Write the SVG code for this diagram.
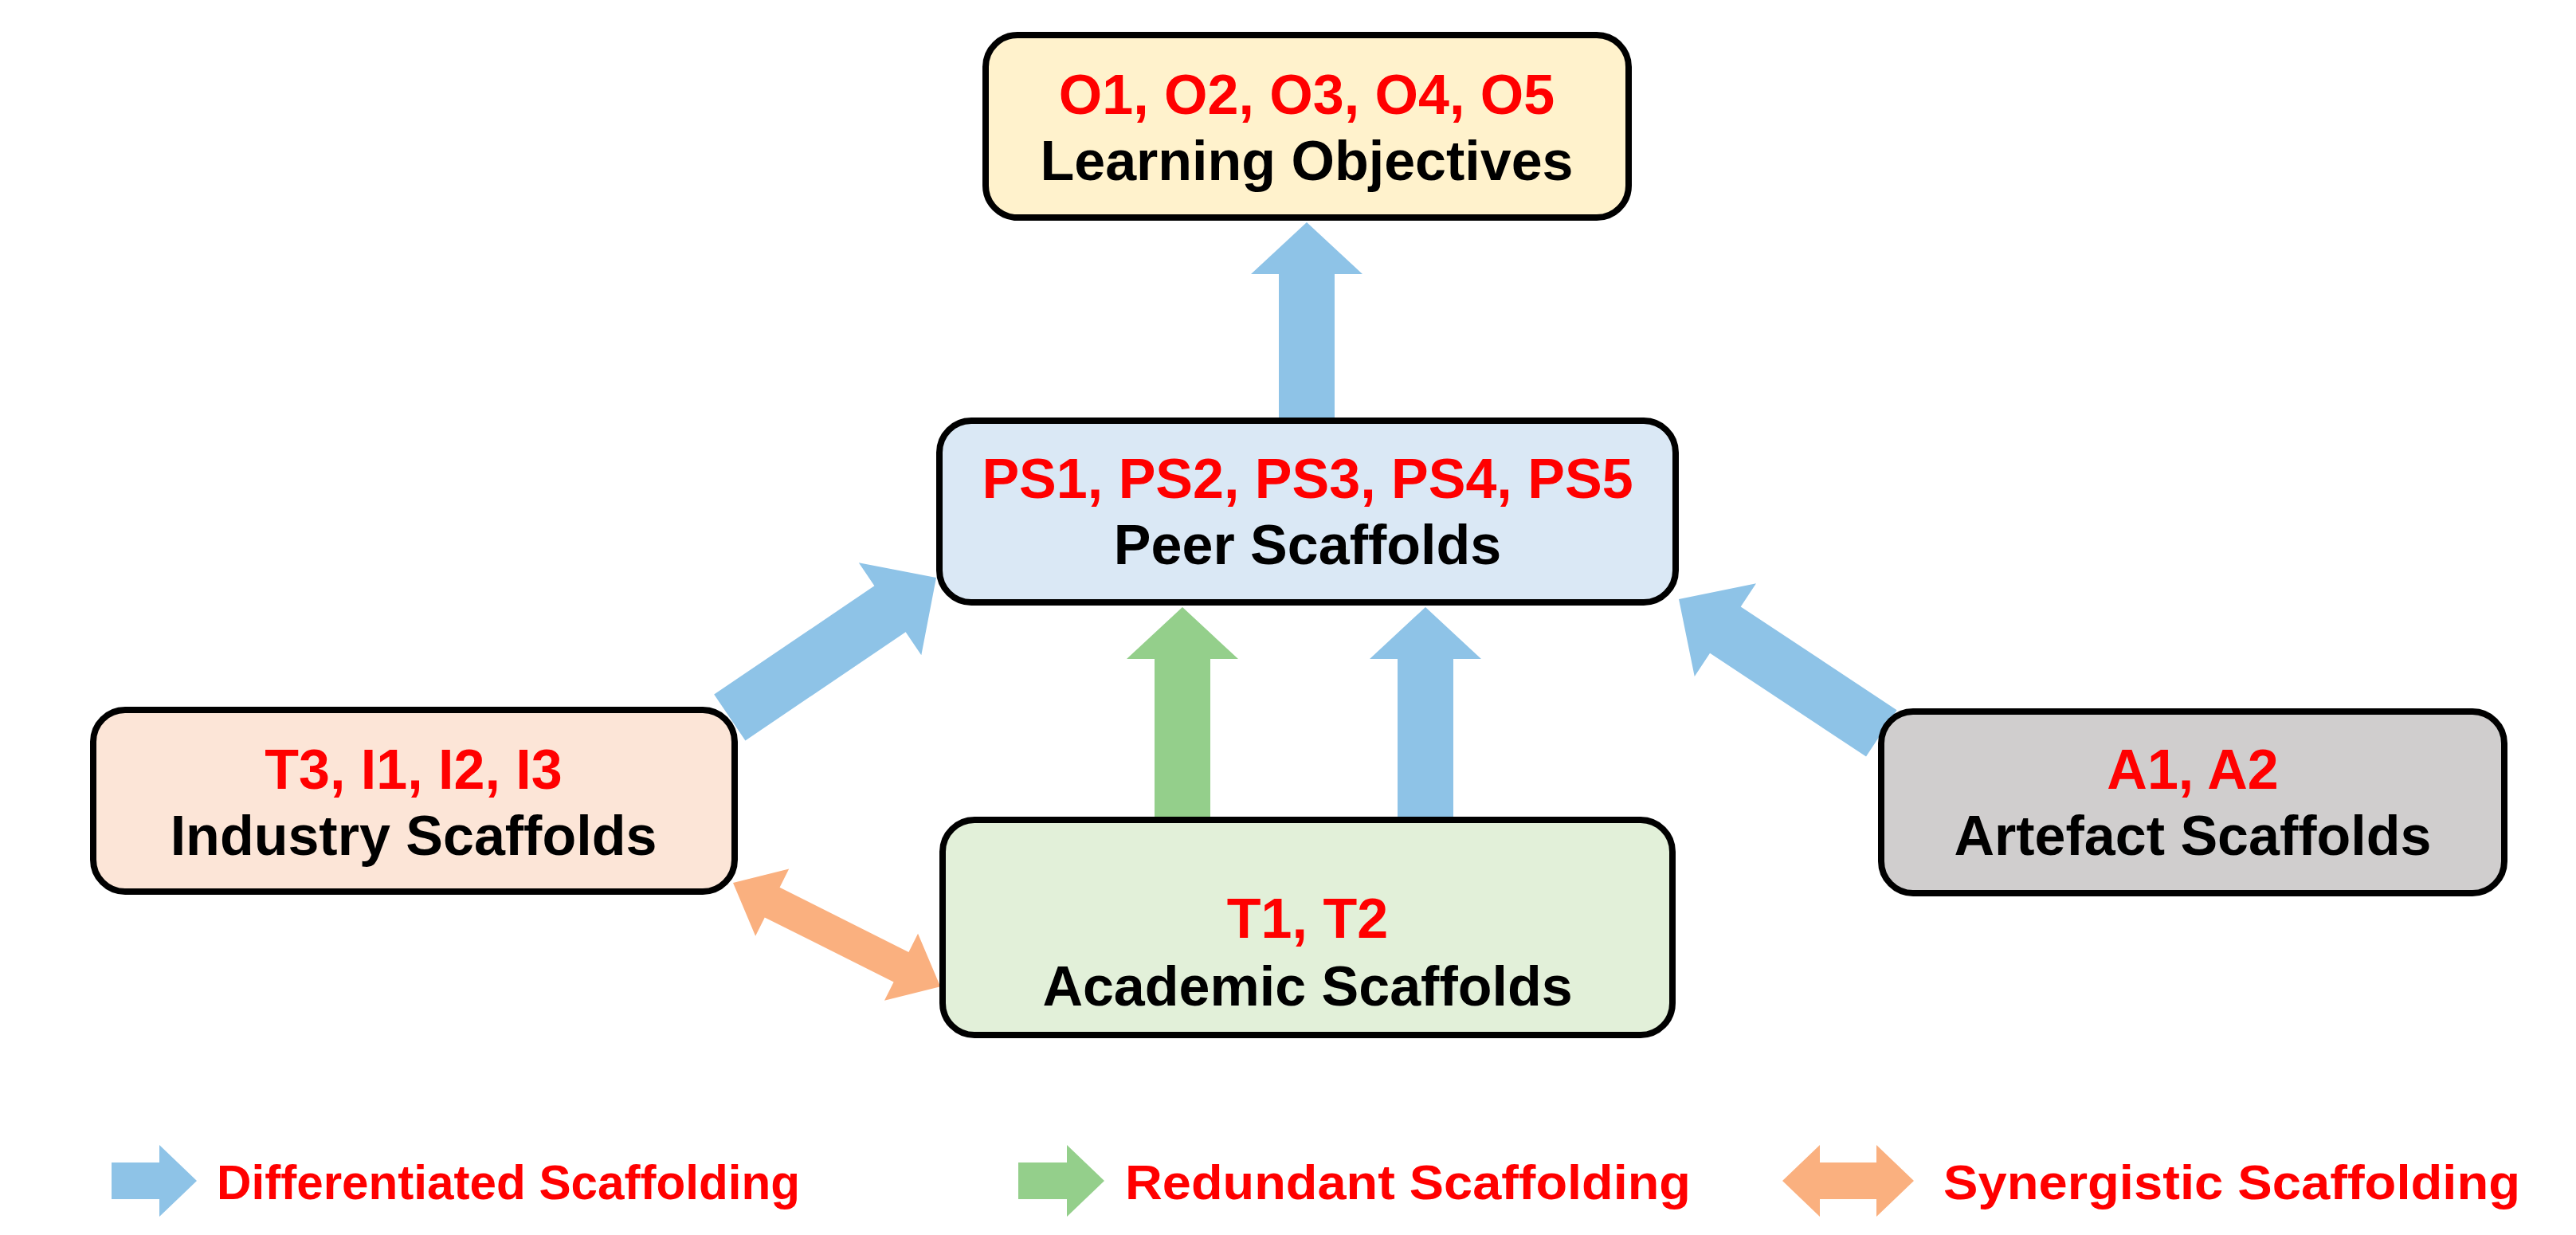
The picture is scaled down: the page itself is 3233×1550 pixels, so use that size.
<svg xmlns="http://www.w3.org/2000/svg" width="3233" height="1550" viewBox="0 0 3233 1550">
<style>
.box{stroke:#000;stroke-width:8}
.t{font-family:"Liberation Sans",Arial,sans-serif;font-weight:bold;font-size:70px;text-anchor:middle}
.red{fill:#FF0000}
.blk{fill:#000}
.lg{font-family:"Liberation Sans",Arial,sans-serif;font-weight:bold;font-size:62px;fill:#FF0000}
.blue{fill:#8EC3E7}
.green{fill:#94CF8B}
.orange{fill:#FAB07F}
</style>
<rect width="3233" height="1550" fill="#fff"/>
<g id="connectors">
  <path class="blue" d="M1640,279 L1710,344 L1675,344 L1675,532 L1605,532 L1605,344 L1570,344 Z"/>
  <path class="green" d="M1484,762 L1554,827 L1519,827 L1519,1033 L1449,1033 L1449,827 L1414,827 Z"/>
  <path class="blue" d="M1789,762 L1859,827 L1824,827 L1824,1033 L1754,1033 L1754,827 L1719,827 Z"/>
  <path class="blue" transform="translate(1175,725) rotate(-34.1)" d="M0,0 L-70,-70 L-70,-35 L-313,-35 L-313,35 L-70,35 L-70,70 Z"/>
  <path class="blue" transform="translate(2107,752) rotate(-146.5)" d="M0,0 L-70,-70 L-70,-35 L-305,-35 L-305,35 L-70,35 L-70,70 Z"/>
  <path class="orange" transform="translate(920,1108) rotate(26.6)" d="M0,0 L55,-47 L55,-21 L236,-21 L236,-47 L291,0 L236,47 L236,21 L55,21 L55,47 Z"/>
</g>
<g id="node-objectives">
  <rect class="box" x="1237" y="44" width="807" height="229" rx="40" fill="#FFF2CC"/>
  <text class="t red" x="1640" y="143">O1, O2, O3, O4, O5</text>
  <text class="t blk" x="1640" y="226">Learning Objectives</text>
</g>
<g id="node-peer">
  <rect class="box" x="1179" y="528" width="924" height="228" rx="40" fill="#DAE8F5"/>
  <text class="t red" x="1641" y="625">PS1, PS2, PS3, PS4, PS5</text>
  <text class="t blk" x="1641" y="708">Peer Scaffolds</text>
</g>
<g id="node-industry">
  <rect class="box" x="117" y="891" width="805" height="228" rx="40" fill="#FCE5D7"/>
  <text class="t red" x="519" y="990">T3, I1, I2, I3</text>
  <text class="t blk" x="519" y="1073">Industry Scaffolds</text>
</g>
<g id="node-artefact">
  <rect class="box" x="2361" y="893" width="782" height="228" rx="40" fill="#D0CECE"/>
  <text class="t red" x="2752" y="990">A1, A2</text>
  <text class="t blk" x="2752" y="1073">Artefact Scaffolds</text>
</g>
<g id="node-academic">
  <rect class="box" x="1183" y="1029" width="916" height="270" rx="40" fill="#E2F0D9"/>
  <text class="t red" x="1641" y="1177">T1, T2</text>
  <text class="t blk" x="1641" y="1262">Academic Scaffolds</text>
</g>
<g id="legend">
  <path class="blue" d="M247,1482 L200,1437 L200,1459 L140,1459 L140,1505 L200,1505 L200,1527 Z"/>
  <text class="lg" x="272" y="1505" textLength="732" lengthAdjust="spacingAndGlyphs">Differentiated Scaffolding</text>
  <path class="green" d="M1386,1482 L1339,1437 L1339,1459 L1278,1459 L1278,1505 L1339,1505 L1339,1527 Z"/>
  <text class="lg" x="1412" y="1505" textLength="710" lengthAdjust="spacingAndGlyphs">Redundant Scaffolding</text>
  <path class="orange" d="M2237,1482 L2284,1437 L2284,1459 L2355,1459 L2355,1437 L2402,1482 L2355,1527 L2355,1505 L2284,1505 L2284,1527 Z"/>
  <text class="lg" x="2439" y="1505" textLength="724" lengthAdjust="spacingAndGlyphs">Synergistic Scaffolding</text>
</g>
</svg>
